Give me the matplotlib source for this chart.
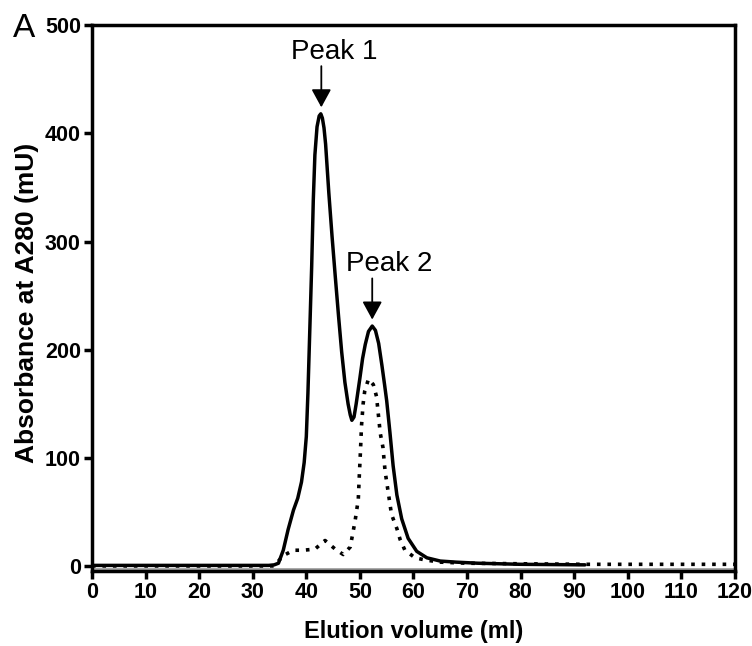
import numpy as np
import matplotlib.pyplot as plt

plt.rcParams['font.family'] = ['Liberation Sans', 'DejaVu Sans']

# solid trace (A280)
vol_solid = [0, 10, 20, 30, 33, 34, 34.8, 35.7, 36.6, 37.6, 38.4, 39.1, 39.6, 40.0, 40.3,
             40.6, 41.0, 41.3, 41.6, 42.0, 42.4, 42.7, 43.0, 43.3, 43.6, 44.2, 44.8, 45.4,
             46.0, 46.6, 47.2, 47.8, 48.2, 48.5, 48.9, 49.3, 50.0, 50.5, 51.0, 51.6, 52.3,
             52.9, 53.5, 54.1, 54.6, 55.0, 55.6, 56.2, 56.9, 57.8, 59.0, 60.6, 62.5, 65,
             68, 72, 80, 92]
abs_solid = [1, 1, 1, 1, 1, 1.5, 3, 15, 34, 52, 63, 78, 96, 120, 160,
             210, 277, 338, 380, 406, 416, 418, 414, 405, 390, 345, 305, 268,
             232, 198, 170, 150, 140, 135, 138, 150, 174, 192, 205, 217, 222,
             218, 206, 186, 168, 153, 124, 93, 66, 44, 26, 14, 8, 5,
             4, 3, 2, 1.5]

# dotted trace
vol_dot = [0, 10, 20, 30, 34, 35.7, 37.6, 39.4, 41.6, 43.5, 45.4, 46.9, 48.2, 48.8, 49.1,
           49.7, 49.9, 50.1, 50.3, 50.6, 50.9, 51.6, 52.5, 53.1, 53.8, 54.3, 54.7, 55.3,
           55.9, 56.9, 57.5, 58.4, 60.3, 62.2, 65, 70, 80, 92, 100, 120]
abs_dot = [0.5, 0.5, 0.5, 0.5, 0.5, 10, 15, 15, 16, 24, 16, 11, 18, 34, 42,
           62, 85, 106, 130, 150, 162, 173, 168, 157, 123, 110, 88, 68,
           48, 35, 25, 15, 8, 6, 4, 3, 2.5, 2, 2, 2]

# grey baseline trace
vol_base = [0, 120]
abs_base = [-2, -2]

peaks = ['Peak 1', 'Peak 2']
peak_x = [42.8, 52.3]
peak_top = [424, 228]

fig = plt.figure(figsize=(7.52, 6.46), dpi=100)
ax = fig.add_axes([0.1223, 0.1164, 0.8551, 0.8449])

ax.plot(vol_base, abs_base, color='#9a9a9a', lw=1.2, zorder=1)
ax.plot(vol_solid, abs_solid, color='k', lw=2.5, zorder=2,
        solid_joinstyle='round', solid_capstyle='round')
ax.plot(vol_dot, abs_dot, color='k', lw=2.6, ls=(0, (1, 1.9)), dash_capstyle='butt', zorder=3)

text_dx = [2.4, 3.1]
for name, px, pt, dx in zip(peaks, peak_x, peak_top, text_dx):
    ax.annotate('', xy=(px, pt), xytext=(px, pt + 38),
                arrowprops=dict(arrowstyle='-|>,head_length=0.55,head_width=0.3',
                                color='k', lw=1.3, shrinkA=0, shrinkB=0,
                                mutation_scale=20))
    ax.text(px + dx, pt + 45, name, ha='center', va='baseline', fontsize=20)

ax.set_xlim(0, 120)
ax.set_ylim(-4, 500)
ax.set_xticks(np.arange(0, 121, 10))
ax.set_yticks(np.arange(0, 501, 100))
for s in ax.spines.values():
    s.set_linewidth(2.5)
ax.tick_params(direction='out', length=6, width=2.5, labelsize=15.5, pad=2)
for lab in ax.get_xticklabels() + ax.get_yticklabels():
    lab.set_fontweight('bold')

ax.set_xlabel('Elution volume (ml)', fontsize=17, fontweight='bold')
ax.xaxis.set_label_coords(0.5, -0.09)
ax.set_ylabel('Absorbance at A280 (mU)', fontsize=19, fontweight='bold', va='center')
ax.yaxis.set_label_coords(-0.101, 0.49)

fig.text(0.0173, 0.9427, 'A', fontsize=24, va='baseline', ha='left')

plt.savefig('out.png', dpi=100)
